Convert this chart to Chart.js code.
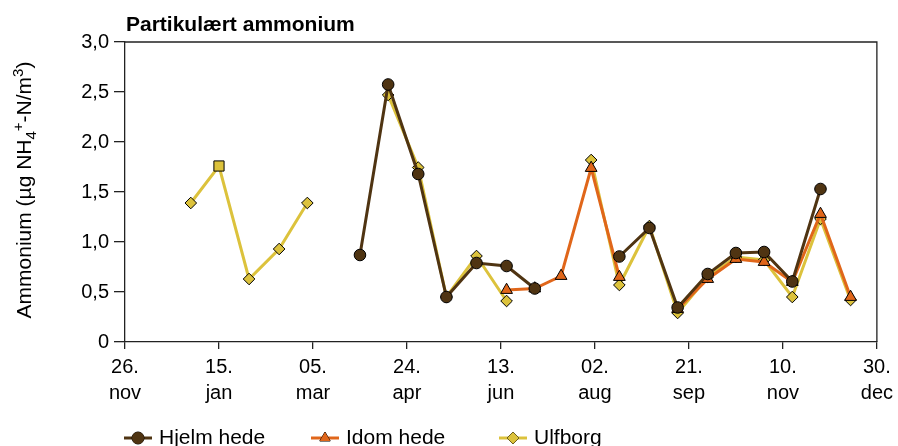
<!DOCTYPE html>
<html>
<head>
    <title>Partikulært ammonium</title>
    <style>
        body {
            margin: 0;
            background: #fff;
        }
        .wrap {
            width: 898px;
            height: 446px;
        }
    </style>
</head>
<body>
    <div class="wrap"><canvas id="chart"></canvas></div>
    <script src="https://cdn.jsdelivr.net/npm/chart.js"></script>
    <script>
        const startDate = '2003-11-26';
        const sampleDates = ['2003-12-31', '2004-01-15', '2004-01-31', '2004-02-16', '2004-03-02', '2004-03-30',
            '2004-04-14', '2004-04-30', '2004-05-15', '2004-05-31', '2004-06-16', '2004-07-01', '2004-07-15',
            '2004-07-31', '2004-08-15', '2004-08-31', '2004-09-15', '2004-10-01', '2004-10-16', '2004-10-31',
            '2004-11-15', '2004-11-30', '2004-12-16'];
        const hjelmHede = [null, null, null, null, null, 0.87, 2.575, 1.68, 0.45, 0.79, 0.76, 0.535, null,
            null, 0.855, 1.14, 0.345, 0.68, 0.89, 0.90, 0.605, 1.53, null];
        const idomHede = [null, null, null, null, null, null, null, null, null, null, 0.52, 0.535, 0.66,
            1.74, 0.65, null, 0.33, 0.63, 0.83, 0.80, 0.60, 1.28, 0.45];
        const ulfborg = [1.39, 1.76, 0.63, 0.93, 1.39, null, 2.47, 1.745, 0.45, 0.86, 0.41, null, null,
            1.82, 0.57, 1.16, 0.29, 0.65, 0.85, 0.82, 0.45, 1.23, 0.42];
        const xTickLabels = [['26.', 'nov'], ['15.', 'jan'], ['05.', 'mar'], ['24.', 'apr'], ['13.', 'jun'],
            ['02.', 'aug'], ['21.', 'sep'], ['10.', 'nov'], ['30.', 'dec']];
        const seriesNames = ['Hjelm hede', 'Idom hede', 'Ulfborg'];

        const DAY = 86400000;
        function dayNo(s) {
            return Math.round((Date.parse(s) - Date.parse(startDate)) / DAY);
        }
        function points(values) {
            return sampleDates.map((d, i) => ({ x: dayNo(d), y: values[i] }));
        }

        const brown = '#4f3412';
        const orange = '#e0661a';
        const yellow = '#dcc23c';
        const font = '"Liberation Sans", Arial, sans-serif';

        Chart.defaults.font.family = font;
        Chart.defaults.font.size = 20;
        Chart.defaults.color = '#000';

        // square marker for the 15 jan Ulfborg sample
        const ulfStyle = ulfborg.map((v, i) => i === 1 ? 'rect' : 'rectRot');
        const ulfRadius = ulfborg.map((v, i) => i === 1 ? 7.2 : 5.8);

        const extras = {
            id: 'extras',
            afterDraw(chart) {
                const ctx = chart.ctx;
                const a = chart.chartArea;
                ctx.save();
                // frame top + right
                ctx.strokeStyle = '#222';
                ctx.lineWidth = 1.3;
                ctx.beginPath();
                ctx.moveTo(a.left, a.top);
                ctx.lineTo(a.right, a.top);
                ctx.lineTo(a.right, a.bottom);
                ctx.stroke();

                // title
                ctx.fillStyle = '#000';
                ctx.font = 'bold 21px ' + font;
                ctx.textAlign = 'left';
                ctx.textBaseline = 'alphabetic';
                ctx.fillText('Partikulært ammonium', a.left + 1, 31);

                // y axis title with sub/superscripts
                const parts = [
                    ['Ammonium (µg NH', 0, 21],
                    ['4', 5, 15],
                    ['+', -8, 15],
                    ['-N/m', 0, 21],
                    ['3', -8, 15],
                    [')', 0, 21]
                ];
                let total = 0;
                parts.forEach(p => {
                    ctx.font = p[2] + 'px ' + font;
                    total += ctx.measureText(p[0]).width;
                });
                ctx.translate(31, (a.top + a.bottom) / 2 - 2);
                ctx.rotate(-Math.PI / 2);
                let x = -total / 2;
                parts.forEach(p => {
                    ctx.font = p[2] + 'px ' + font;
                    ctx.fillText(p[0], x, p[1]);
                    x += ctx.measureText(p[0]).width;
                });
                ctx.setTransform(1, 0, 0, 1, 0, 0);

                // legend
                const y = 438;
                const sets = chart.data.datasets;
                const starts = [124, 311, 499];
                sets.forEach((ds, i) => {
                    const x0 = starts[i];
                    ctx.strokeStyle = ds.borderColor;
                    ctx.lineWidth = 3;
                    ctx.beginPath();
                    ctx.moveTo(x0, y);
                    ctx.lineTo(x0 + 28, y);
                    ctx.stroke();
                    ctx.fillStyle = ds.pointBackgroundColor;
                    ctx.strokeStyle = '#000';
                    ctx.lineWidth = 1;
                    const style = Array.isArray(ds.pointStyle) ? ds.pointStyle[0] : ds.pointStyle;
                    Chart.helpers.drawPoint(ctx, { pointStyle: style, radius: 6, borderWidth: 1 }, x0 + 14, y);
                    ctx.fill();
                    ctx.fillStyle = '#000';
                    ctx.font = '21px ' + font;
                    ctx.textBaseline = 'middle';
                    ctx.fillText(seriesNames[i], x0 + 35, y);
                });
                ctx.restore();
            }
        };

        new Chart(document.getElementById('chart'), {
            type: 'line',
            data: {
                datasets: [{
                    label: seriesNames[0],
                    data: points(hjelmHede),
                    borderColor: brown,
                    backgroundColor: brown,
                    pointBackgroundColor: brown,
                    pointBorderColor: '#000',
                    pointBorderWidth: 1,
                    pointStyle: 'circle',
                    pointRadius: 5.8,
                    borderWidth: 3
                }, {
                    label: seriesNames[1],
                    data: points(idomHede),
                    borderColor: orange,
                    backgroundColor: orange,
                    pointBackgroundColor: orange,
                    pointBorderColor: '#000',
                    pointBorderWidth: 1,
                    pointStyle: 'triangle',
                    pointRadius: 6.8,
                    borderWidth: 3
                }, {
                    label: seriesNames[2],
                    data: points(ulfborg),
                    borderColor: yellow,
                    backgroundColor: yellow,
                    pointBackgroundColor: yellow,
                    pointBorderColor: '#000',
                    pointBorderWidth: 1,
                    pointStyle: ulfStyle,
                    pointRadius: ulfRadius,
                    borderWidth: 3
                }]
            },
            options: {
                responsive: true,
                maintainAspectRatio: false,
                animation: false,
                spanGaps: false,
                layout: { padding: { left: 0, top: 42, right: 20, bottom: 34 } },
                plugins: {
                    legend: { display: false },
                    tooltip: { enabled: false }
                },
                scales: {
                    x: {
                        type: 'linear',
                        min: 0,
                        max: 400,
                        afterFit: s => { s.height = 70; },
                        grid: { drawOnChartArea: false, drawTicks: true, tickLength: 7, color: '#222', lineWidth: 1.3 },
                        border: { display: true, color: '#222', width: 1.3 },
                        ticks: {
                            stepSize: 50,
                            maxRotation: 0,
                            autoSkip: false,
                            padding: 5,
                            font: { size: 20, lineHeight: 1.3 },
                            callback: v => xTickLabels[Math.round(v / 50)]
                        }
                    },
                    y: {
                        min: 0,
                        max: 3,
                        afterFit: s => { s.width = 125; },
                        grid: { drawOnChartArea: false, drawTicks: true, tickLength: 11, color: '#222', lineWidth: 1.3 },
                        border: { display: true, color: '#222', width: 1.3 },
                        ticks: {
                            stepSize: 0.5,
                            padding: 5,
                            font: { size: 20 },
                            callback: v => v === 0 ? '0' : v.toFixed(1).replace('.', ',')
                        }
                    }
                }
            },
            plugins: [extras]
        });
    </script>
</body>
</html>
